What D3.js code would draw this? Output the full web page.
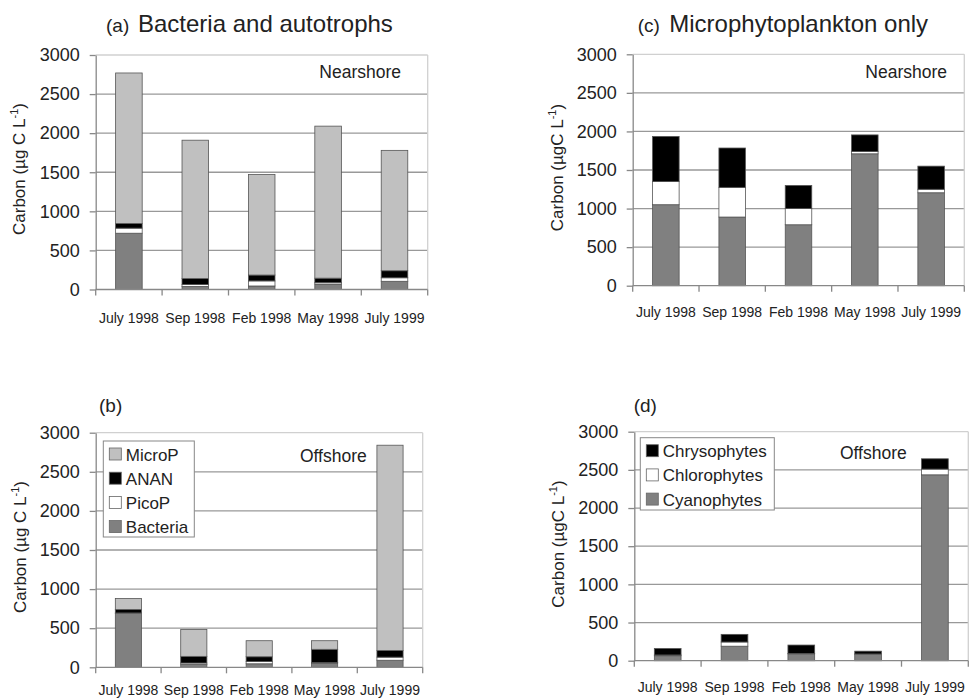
<!DOCTYPE html>
<html>
<head>
<meta charset="utf-8">
<script src="https://cdn.jsdelivr.net/npm/d3@7"></script>
<style>
  body { margin: 0; background: #fff; }
  text { font-family: "Liberation Sans", Arial, sans-serif; fill: #222; }
</style>
</head>
<body>
<div id="chart"></div>
<script>
// Categories and ticks
const months = ["July 1998", "Sep 1998", "Feb 1998", "May 1998", "July 1999"];
const yTicks = [0, 500, 1000, 1500, 2000, 2500, 3000];

// (a) Nearshore - bacteria and autotrophs (ugC/L)
const nearBacteria = [720, 40, 45, 70, 105];
const nearPicoP    = [65, 25, 65, 20, 45];
const nearANAN     = [60, 75, 75, 55, 90];
const nearMicroP   = [1925, 1770, 1285, 1945, 1540];

// (b) Offshore - bacteria and autotrophs
const offBacteria = [690, 35, 45, 55, 90];
const offPicoP    = [5, 20, 30, 5, 40];
const offANAN     = [45, 85, 60, 170, 85];
const offMicroP   = [140, 345, 205, 110, 2625];

// (c) Nearshore - microphytoplankton only
const nearCyano  = [1050, 890, 790, 1710, 1205];
const nearChloro = [300, 385, 210, 30, 45];
const nearChryso = [585, 510, 300, 215, 300];

// (d) Offshore - microphytoplankton only
const offCyano  = [65, 190, 90, 80, 2435];
const offChloro = [10, 55, 5, 8, 75];
const offChryso = [85, 100, 110, 37, 135];

const keysAuto = ["Bacteria", "PicoP", "ANAN", "MicroP"];
const keysMicro = ["Cyanophytes", "Chlorophytes", "Chrysophytes"];

const fill = {
  Bacteria: "#808080", PicoP: "#ffffff", ANAN: "#000000", MicroP: "#c0c0c0",
  Cyanophytes: "#808080", Chlorophytes: "#ffffff", Chrysophytes: "#000000"
};

function rows(keys, series) {
  return months.map((m, i) => {
    const r = {month: m};
    keys.forEach((k, j) => r[k] = series[j][i]);
    return r;
  });
}

const svg = d3.select("#chart").append("svg")
  .attr("width", 972).attr("height", 698);

const panels = [
  {tag: "(a)", title: "Bacteria and autotrophs", tagX: 106, titleX: 138, titleY: 32,
   left: 95.7, right: 427.7, top: 55, bottom: 289.5, labelY: 323,
   ylabX: 24.5, ylabY: 169, ylab: "Carbon (\u00b5g C L",
   note: "Nearshore", noteX: 401, noteY: 78,
   keys: keysAuto, data: rows(keysAuto, [nearBacteria, nearPicoP, nearANAN, nearMicroP])},
  {tag: "(b)", title: "", tagX: 99, titleX: 0, titleY: 412,
   left: 95.7, right: 422.7, top: 432.7, bottom: 667.3, labelY: 695,
   ylabX: 26, ylabY: 547, ylab: "Carbon (\u00b5g C L",
   note: "Offshore", noteX: 366.7, noteY: 462,
   keys: keysAuto, data: rows(keysAuto, [offBacteria, offPicoP, offANAN, offMicroP]),
   legend: {x: 103.3, y: 441, w: 91, h: 96, items: ["MicroP", "ANAN", "PicoP", "Bacteria"]}},
  {tag: "(c)", title: "Microphytoplankton only", tagX: 637.7, titleX: 669.3, titleY: 32,
   left: 632.7, right: 964.3, top: 54.3, bottom: 285.7, labelY: 317,
   ylabX: 562.5, ylabY: 167.5, ylab: "Carbon (\u00b5gC L",
   note: "Nearshore", noteX: 947, noteY: 78,
   keys: keysMicro, data: rows(keysMicro, [nearCyano, nearChloro, nearChryso])},
  {tag: "(d)", title: "", tagX: 633.7, titleX: 0, titleY: 412,
   left: 634.3, right: 968.3, top: 431.7, bottom: 660.7, labelY: 692,
   ylabX: 564, ylabY: 544, ylab: "Carbon (\u00b5gC L",
   note: "Offshore", noteX: 906.7, noteY: 459,
   keys: keysMicro, data: rows(keysMicro, [offCyano, offChloro, offChryso]),
   legend: {x: 640.3, y: 437.7, w: 134, h: 72.3, items: ["Chrysophytes", "Chlorophytes", "Cyanophytes"]}}
];

panels.forEach(drawPanel);

function drawPanel(p) {
  const g = svg.append("g");
  const x = d3.scaleBand().domain(months).range([p.left, p.right])
    .paddingInner(0.6).paddingOuter(0.3);
  const y = d3.scaleLinear().domain([0, 3000]).range([p.bottom, p.top]);

  // gridlines
  g.append("g").selectAll("line")
    .data(yTicks.filter(t => t > 0))
    .join("line")
    .attr("x1", p.left).attr("x2", p.right)
    .attr("y1", d => y(d)).attr("y2", d => y(d))
    .attr("stroke", d => d === 3000 ? "#d0d0d0" : "#999")
    .attr("stroke-width", 1.3);
  // right frame
  g.append("line")
    .attr("x1", p.right).attr("x2", p.right)
    .attr("y1", p.top).attr("y2", p.bottom)
    .attr("stroke", "#d0d0d0").attr("stroke-width", 1.3);

  // stacked bars
  const stacked = d3.stack().keys(p.keys)(p.data);
  g.append("g").selectAll("g")
    .data(stacked)
    .join("g")
    .attr("fill", d => fill[d.key])
    .selectAll("rect")
    .data(d => d)
    .join("rect")
    .attr("x", d => x(d.data.month))
    .attr("width", x.bandwidth())
    .attr("y", d => y(d[1]))
    .attr("height", d => y(d[0]) - y(d[1]))
    .attr("stroke", "#555")
    .attr("stroke-width", 0.8);

  // y axis
  const yAxis = g.append("g")
    .attr("transform", `translate(${p.left},0)`)
    .call(d3.axisLeft(y).tickValues(yTicks).tickFormat(d3.format("d"))
      .tickSize(6).tickSizeOuter(0).tickPadding(10));
  yAxis.select(".domain").attr("stroke", "#888").attr("stroke-width", 1.3);
  yAxis.selectAll(".tick line").attr("stroke", "#888").attr("stroke-width", 1.3);
  yAxis.selectAll(".tick text")
    .attr("font-size", 18).attr("fill", "#222")
    .style("font-family", "'Liberation Sans', Arial, sans-serif");

  // x axis: baseline, boundary ticks, labels
  g.append("line")
    .attr("x1", p.left).attr("x2", p.right)
    .attr("y1", y(0)).attr("y2", y(0))
    .attr("stroke", "#888").attr("stroke-width", 1.3);
  const bounds = months.map(m => x(m) - x.step() * 0.3).concat([p.right]);
  g.append("g").selectAll("line")
    .data(bounds)
    .join("line")
    .attr("x1", d => d).attr("x2", d => d)
    .attr("y1", y(0)).attr("y2", y(0) + 6)
    .attr("stroke", "#888").attr("stroke-width", 1.3);
  g.append("g").selectAll("text")
    .data(months)
    .join("text")
    .attr("x", d => x(d) + x.bandwidth() / 2)
    .attr("y", p.labelY)
    .attr("text-anchor", "middle")
    .attr("font-size", 14)
    .text(d => d);

  // y label
  const yl = g.append("text")
    .attr("transform", `translate(${p.ylabX},${p.ylabY}) rotate(-90)`)
    .attr("text-anchor", "middle")
    .attr("font-size", 17);
  yl.append("tspan").text(p.ylab);
  yl.append("tspan").attr("dy", -7).attr("font-size", 11).text("-1");
  yl.append("tspan").attr("dy", 7).text(")");

  // titles
  g.append("text").attr("x", p.tagX).attr("y", p.titleY)
    .attr("font-size", 19).text(p.tag);
  if (p.title) {
    g.append("text").attr("x", p.titleX).attr("y", p.titleY)
      .attr("font-size", 24).text(p.title);
  }

  // Nearshore / Offshore
  g.append("text").attr("x", p.noteX).attr("y", p.noteY)
    .attr("text-anchor", "end").attr("font-size", 17.5).text(p.note);

  // legend
  if (p.legend) {
    const L = p.legend;
    const lg = g.append("g");
    lg.append("rect").attr("x", L.x).attr("y", L.y)
      .attr("width", L.w).attr("height", L.h)
      .attr("fill", "#fff").attr("stroke", "#888").attr("stroke-width", 1);
    const item = lg.selectAll("g")
      .data(L.items)
      .join("g")
      .attr("transform", (d, i) => `translate(${L.x + 6},${L.y + 13 + i * 24.2})`);
    item.append("rect")
      .attr("x", 0).attr("y", -6).attr("width", 12).attr("height", 12)
      .attr("fill", d => fill[d]).attr("stroke", "#666").attr("stroke-width", 0.8);
    item.append("text")
      .attr("x", 16.5).attr("y", 6.5)
      .attr("font-size", 17).text(d => d);
  }
}
</script>
</body>
</html>
